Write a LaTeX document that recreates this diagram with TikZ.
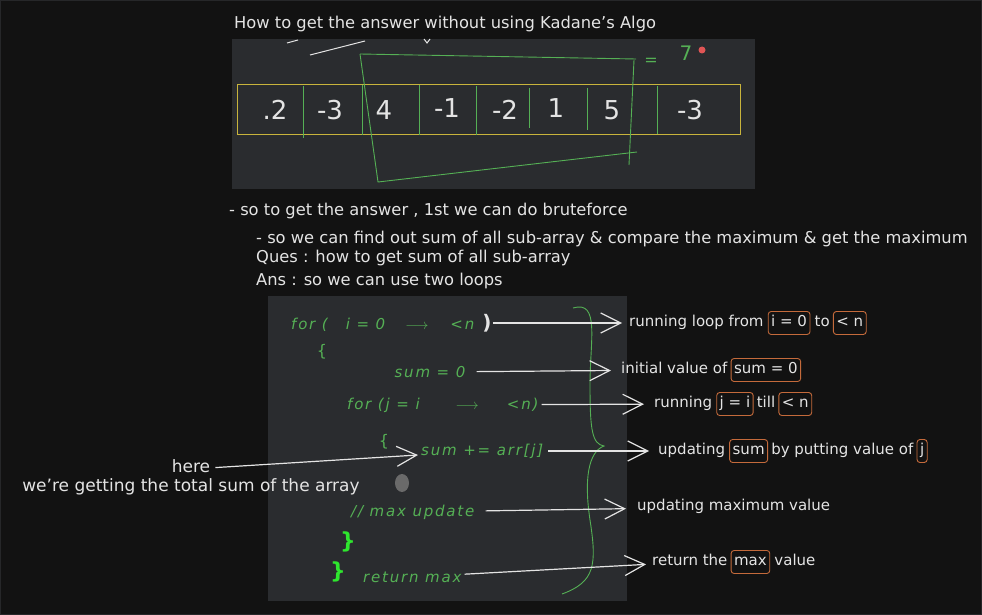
\documentclass[tikz,border=0pt]{standalone}
\usepackage{fontspec}
\setmainfont{DejaVu Sans}
\newfontfamily\handfont[LetterSpace=12]{DejaVu Sans}
\usetikzlibrary{positioning,arrows.meta}
\definecolor{board}{HTML}{121212}
\definecolor{rim}{HTML}{262729}
\definecolor{panel}{HTML}{2A2C2F}
\definecolor{ink}{HTML}{E4E4E4}
\definecolor{leaf}{HTML}{55B055}
\definecolor{neon}{HTML}{2EE62E}
\definecolor{gold}{HTML}{C8B43C}
\definecolor{rust}{HTML}{C46A3B}
\definecolor{dot}{HTML}{E05555}
\definecolor{smudge}{HTML}{6A6A6A}
\tikzset{
  note/.style={text=ink, font=\fontsize{15}{18}\selectfont, inner sep=1pt, text height=11pt, text depth=3.5pt},
  line/.style={note, font=\fontsize{16.3}{19}\selectfont, anchor=west},
  tag/.style={note, draw=rust, rounded corners=3pt, line width=0.9pt, inner xsep=3pt, minimum height=23pt},
  code/.style={text=leaf, font=\handfont\itshape\fontsize{15}{17}\selectfont, inner sep=1pt},
  brk/.style={text=leaf, font=\fontsize{16}{18}\selectfont, inner sep=0pt},
  cell/.style={text=ink, font=\fontsize{26}{30}\selectfont, inner sep=0pt},
  frame/.style={draw=leaf, line width=0.9pt},
  pointer/.style={draw=ink, line width=1.2pt, -{Straight Barb[length=20pt,width=20pt]}},
}
\begin{document}
\begin{tikzpicture}[x=1pt,y=-1pt]
  \useasboundingbox (0,0) rectangle (982,615);
  \fill[board] (0,0) rectangle (982,615);
  \draw[rim, line width=2pt] (0,0) rectangle (982,615);
  \fill[panel] (232,39) rectangle (755,189);
  \fill[panel] (268,296) rectangle (627,601);

  \node[line] (ttl) at (233,25) {How to get the answer without using Kadane's Algo};
  \draw[ink, line width=1pt] (287,43) -- (298,40) (310,55) -- (365,41) (424,39) -- (427,43) -- (430,39);

  \node[draw=gold, line width=1pt, minimum width=503pt, minimum height=50pt, inner sep=0pt] (arr) at (488.5,110) {};
  \draw
    (275,110) node[cell] (v0) {.2}
    (330,110) node[cell] (v1) {-3}
    (384,110) node[cell] (v2) {4}
    (447,108) node[cell] (v3) {-1}
    (505,110) node[cell] (v4) {-2}
    (556,108) node[cell] (v5) {1}
    (612,110) node[cell] (v6) {5}
    (690,110) node[cell] (v7) {-3};
  \foreach \x/\a/\b in {303/86/138, 362/85/135, 419/85/135, 476/86/135, 529/88/128, 587/88/130, 657/86/134}
    \draw[frame] (\x,\a) -- (\x,\b);
  \draw[frame] (360,54) -- (636,59);
  \draw[frame] (360,54) -- (378,182) -- (637,152);
  \draw[frame] (634,60) -- (629,165);
  \node[brk] (eq) at (651,62) {=};
  \node[brk, font=\fontsize{20}{22}\selectfont] (sev) at (686,53) {7};
  \fill[dot] (702,50) circle (3.5pt);

  \node[line] (l1) at (228,212) {- so to get the answer , 1st we can do bruteforce};
  \node[line] (l2) at (255,240) {- so we can find out sum of all sub-array \& compare the maximum \& get the maximum};
  \node[line] (l3) at (255,259) {Ques : how to get sum of all sub-array};
  \node[line] (l4) at (255,282) {Ans : so we can use two loops};

  \node[code, anchor=west] (c1) at (290,325) {for (\hspace{18pt}i = 0\hspace{20pt}$\longrightarrow$\hspace{22pt}{<}n};
  \node[text=ink, font=\bfseries\fontsize{20}{22}\selectfont, inner sep=1pt] (p1) at (487,323) {)};
  \node[brk] (b1) at (322,352) {\{};
  \node[code] (c3) at (430,372) {sum = 0};
  \node[code, anchor=west] (c4) at (346,405) {for (j = i\hspace{36pt}$\longrightarrow$\hspace{28pt}{<}n)};
  \node[brk] (b2) at (384,442) {\{};
  \node[code, anchor=west] (c5) at (420,451) {sum += arr[j]};
  \fill[smudge] (402,483) ellipse (7pt and 9pt);
  \node[code, anchor=west] (c6) at (350,512) {// max update};
  \node[brk, text=neon, font=\bfseries\fontsize{22}{24}\selectfont] (b3) at (348,542) {\}};
  \node[brk, text=neon, font=\bfseries\fontsize{22}{24}\selectfont] (b4) at (338,572) {\}};
  \node[code, anchor=west] (c7) at (362,577) {return max};
  \draw[frame] (573,308) .. controls (600,300) and (590,340) .. (590,385)
    .. controls (590,430) and (592,444) .. (604,446)
    .. controls (588,452) and (584,480) .. (590,520)
    .. controls (597,565) and (595,582) .. (562,594);

  \node[note, anchor=west] (r1a) at (628,323) {running loop from};
  \node[tag, right=3pt of r1a] (r1b) {i = 0};
  \node[note, right=3pt of r1b] (r1c) {to};
  \node[tag, right=2pt of r1c] (r1d) {< n};
  \node[note, anchor=west] (r2a) at (620,370) {initial value of};
  \node[tag, right=2pt of r2a] (r2b) {sum = 0};
  \node[note, anchor=west] (r3a) at (653,404) {running};
  \node[tag, right=3pt of r3a] (r3b) {j = i};
  \node[note, right=2pt of r3b] (r3c) {till};
  \node[tag, right=2pt of r3c] (r3d) {< n};
  \node[note, anchor=west] (r4a) at (657,451) {updating};
  \node[tag, right=3pt of r4a] (r4b) {sum};
  \node[note, right=2pt of r4b] (r4c) {by putting value of};
  \node[tag, right=2pt of r4c] (r4d) {j};
  \node[note, anchor=west] (r5a) at (636,507) {updating maximum value};
  \node[note, anchor=west] (r6a) at (651,562) {return the};
  \node[tag, right=2pt of r6a] (r6b) {max};
  \node[note, right=3pt of r6b] (r6c) {value};

  \node[note, font=\fontsize{17}{20}\selectfont] (hs) at (191,488) {we're getting the total sum of the array};
  \node[note, font=\fontsize{17}{20}\selectfont, above=2pt of hs] (hr) {here};

  \begin{scope}[pointer]
    \draw[shorten >=6pt] (p1) to (r1a);
    \draw[shorten <=10pt, shorten >=9pt] (c3) to (r2a);
    \draw[shorten <=2pt, shorten >=9pt] (c4) to (r3a);
    \draw[shorten <=4pt, shorten >=8pt] (c5) to (r4a);
    \draw[shorten <=10pt, shorten >=10pt] (c6) to (r5a);
    \draw[shorten <=2pt, shorten >=5pt] (c7) to (r6a);
    \draw[shorten <=4pt, shorten >=2pt] (hr) to (c5);
  \end{scope}
\end{tikzpicture}
\end{document}
